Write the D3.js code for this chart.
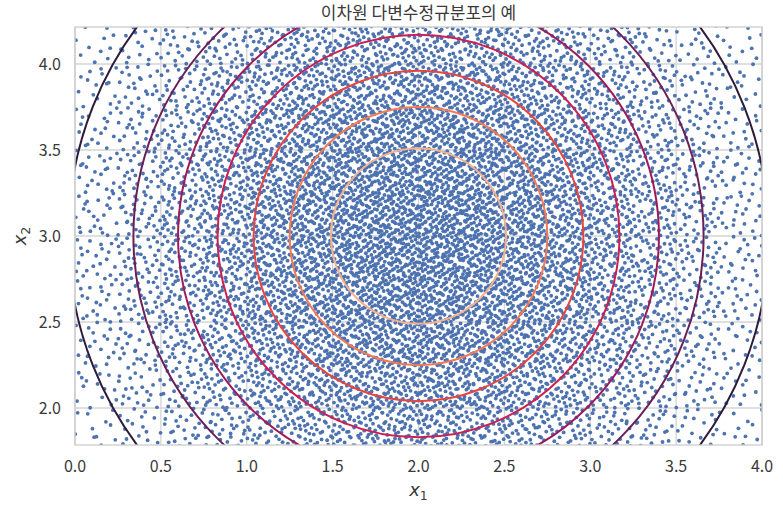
<!DOCTYPE html>
<html>
<head>
<meta charset="utf-8">
<script src="https://cdn.jsdelivr.net/npm/d3@7"></script>
<style>
body { margin: 0; background: #fff; }
text { font-family: "Noto Sans CJK KR", "Noto Sans", sans-serif; fill: #3a3a3a; }
</style>
</head>
<body>
<svg id="chart" width="783" height="505"></svg>
<script>
var title = "이차원 다변수정규분포의 예";
var xTicks = [0, 0.5, 1, 1.5, 2, 2.5, 3, 3.5, 4];
var yTicks = [2, 2.5, 3, 3.5, 4];
var center = [2, 3];

var contourLevels = [0.02, 0.04, 0.06, 0.08, 0.10, 0.12, 0.14];
var contourRadii = [2.04, 1.66, 1.40, 1.17, 0.96, 0.75, 0.51];
var contourColors = ["#2d1b3c", "#6a1f56", "#9c1b5b", "#cc1f52", "#e8443f", "#f27a55", "#f5b28f"];

// sample points, estimated counts per 0.25 x 0.25 cell
var cellX = [0, 0.25, 0.5, 0.75, 1, 1.25, 1.5, 1.75, 2, 2.25, 2.5, 2.75, 3, 3.25, 3.5, 3.75];
var cellY = [1.75, 2, 2.25, 2.5, 2.75, 3, 3.25, 3.5, 3.75, 4];
var cellCounts = [
  [12, 18, 27, 37, 47, 57, 64, 68, 68, 64, 57, 47, 37, 27, 18, 12],
  [15, 24, 34, 47, 60, 72, 82, 87, 87, 82, 72, 60, 47, 34, 24, 15],
  [18, 28, 41, 57, 72, 87, 99, 105, 105, 99, 87, 72, 57, 41, 28, 18],
  [21, 32, 47, 64, 82, 99, 112, 119, 119, 112, 99, 82, 64, 47, 32, 21],
  [22, 34, 50, 68, 87, 105, 119, 127, 127, 119, 105, 87, 68, 50, 34, 22],
  [22, 34, 50, 68, 87, 105, 119, 127, 127, 119, 105, 87, 68, 50, 34, 22],
  [21, 32, 47, 64, 82, 99, 112, 119, 119, 112, 99, 82, 64, 47, 32, 21],
  [18, 28, 41, 57, 72, 87, 99, 105, 105, 99, 87, 72, 57, 41, 28, 18],
  [15, 24, 34, 47, 60, 72, 82, 87, 87, 82, 72, 60, 47, 34, 24, 15],
  [12, 18, 27, 37, 47, 57, 64, 68, 68, 64, 57, 47, 37, 27, 18, 12]
];
var cellSize = 0.25;

var svg = d3.select("#chart"),
  pLeft = 75, pRight = 762, pTop = 27, pBottom = 445,
  x = d3.scaleLinear().domain([0, 4]).range([pLeft, pRight]),
  y = d3.scaleLinear().domain([1.785, 4.215]).range([pBottom, pTop]);

svg.append("defs").append("clipPath").attr("id", "plotclip")
  .append("rect")
  .attr("x", pLeft).attr("y", pTop)
  .attr("width", pRight - pLeft).attr("height", pBottom - pTop);

// grid
var grid = svg.append("g").attr("stroke", "#d4d4d4").attr("stroke-width", 1.3);
xTicks.forEach(function (t) {
  grid.append("line").attr("x1", x(t)).attr("x2", x(t)).attr("y1", pTop).attr("y2", pBottom);
});
yTicks.forEach(function (t) {
  grid.append("line").attr("y1", y(t)).attr("y2", y(t)).attr("x1", pLeft).attr("x2", pRight);
});

// halton sequence just to spread points inside a cell
function halton(i, b) {
  var f = 1, r = 0;
  while (i > 0) {
    f = f / b;
    r += f * (i % b);
    i = Math.floor(i / b);
  }
  return r;
}

var points = [];
var k = 1;
cellCounts.forEach(function (row, j) {
  row.forEach(function (n, i) {
    for (var p = 0; p < n; p++) {
      points.push([cellX[i] + halton(k, 2) * cellSize, cellY[j] + halton(k, 3) * cellSize]);
      k += 7;
    }
  });
});

var plot = svg.append("g").attr("clip-path", "url(#plotclip)");

plot.append("g").selectAll("circle")
  .data(points)
  .enter().append("circle")
  .attr("cx", function (d) { return x(d[0]); })
  .attr("cy", function (d) { return y(d[1]); })
  .attr("r", 1.9)
  .attr("fill", "#4c72b0");

plot.append("g").selectAll("ellipse")
  .data(contourRadii)
  .enter().append("ellipse")
  .attr("cx", x(center[0]))
  .attr("cy", y(center[1]))
  .attr("rx", function (r) { return x(center[0] + r) - x(center[0]); })
  .attr("ry", function (r) { return y(center[1]) - y(center[1] + r); })
  .attr("fill", "none")
  .attr("stroke", function (r, i) { return contourColors[i]; })
  .attr("stroke-width", 2);

// frame
svg.append("rect")
  .attr("x", pLeft).attr("y", pTop)
  .attr("width", pRight - pLeft).attr("height", pBottom - pTop)
  .attr("fill", "none").attr("stroke", "#cccccc").attr("stroke-width", 1.3);

// tick labels
svg.append("g").selectAll("text")
  .data(xTicks)
  .enter().append("text")
  .attr("x", function (d) { return x(d); })
  .attr("y", 472)
  .attr("text-anchor", "middle")
  .attr("font-size", 16)
  .text(function (d) { return d.toFixed(1); });

svg.append("g").selectAll("text")
  .data(yTicks)
  .enter().append("text")
  .attr("x", 61)
  .attr("y", function (d) { return y(d) + 6; })
  .attr("text-anchor", "end")
  .attr("font-size", 16)
  .text(function (d) { return d.toFixed(1); });

// axis labels
var xl = svg.append("text")
  .attr("x", x(2)).attr("y", 496)
  .attr("text-anchor", "middle")
  .attr("font-size", 18);
xl.append("tspan").attr("font-style", "italic").attr("font-family", "DejaVu Sans").text("x");
xl.append("tspan").attr("font-size", 12.5).attr("dy", 4).attr("font-family", "DejaVu Sans").text("1");

var yl = svg.append("text")
  .attr("transform", "translate(26," + y(3) + ") rotate(-90)")
  .attr("text-anchor", "middle")
  .attr("font-size", 18);
yl.append("tspan").attr("font-style", "italic").attr("font-family", "DejaVu Sans").text("x");
yl.append("tspan").attr("font-size", 12.5).attr("dy", 4).attr("font-family", "DejaVu Sans").text("2");

svg.append("text")
  .attr("x", (pLeft + pRight) / 2).attr("y", 19)
  .attr("text-anchor", "middle")
  .attr("font-size", 17)
  .text(title);
</script>
</body>
</html>
